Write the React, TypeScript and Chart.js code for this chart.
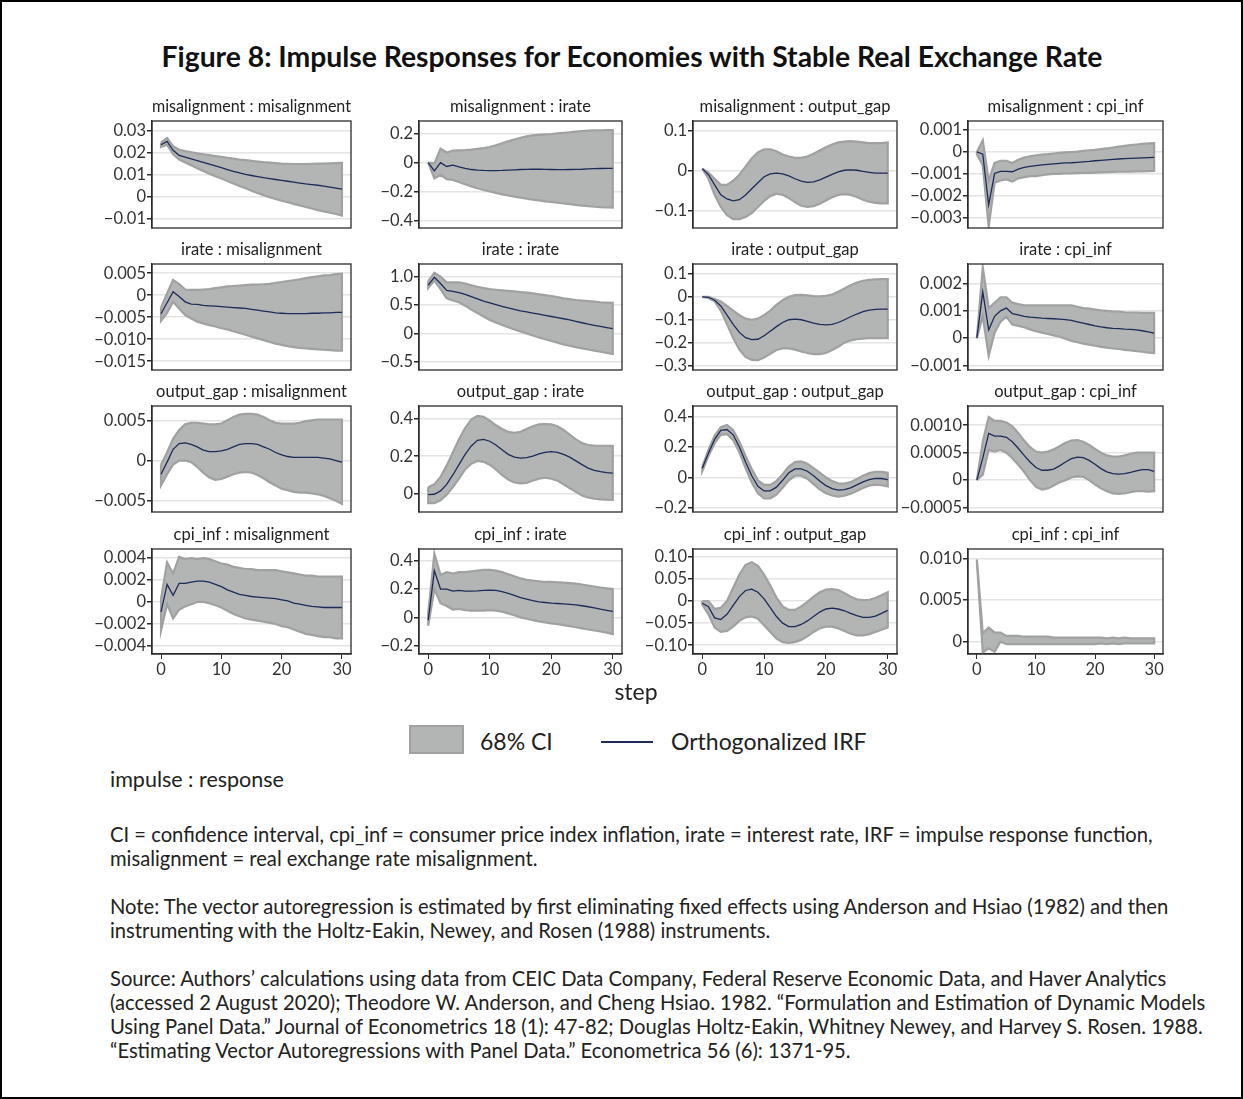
import React, { useEffect, useLayoutEffect, useRef } from 'react';
import { Chart, registerables } from 'chart.js';

Chart.register(...registerables);

// ---------------- DATA ----------------
const STEPS = [0, 1, 2, 3, 4, 5, 6, 7, 8, 9, 10, 11, 12, 13, 14, 15, 16, 17, 18, 19, 20, 21, 22, 23, 24, 25, 26, 27, 28, 29, 30];
const X_TICKS = [0, 10, 20, 30];

const PANEL_TITLES = [
  'misalignment : misalignment', 'misalignment : irate', 'misalignment : output_gap', 'misalignment : cpi_inf',
  'irate : misalignment', 'irate : irate', 'irate : output_gap', 'irate : cpi_inf',
  'output_gap : misalignment', 'output_gap : irate', 'output_gap : output_gap', 'output_gap : cpi_inf',
  'cpi_inf : misalignment', 'cpi_inf : irate', 'cpi_inf : output_gap', 'cpi_inf : cpi_inf',
];

// misalignment : misalignment
const misMisIrf = [0.0235, 0.0250, 0.0210, 0.0187, 0.0179, 0.0171, 0.0163, 0.0155, 0.0147, 0.0139, 0.0131, 0.0123, 0.0115, 0.0108, 0.0101, 0.0096, 0.0091, 0.0086, 0.0082, 0.0078, 0.0074, 0.0070, 0.0066, 0.0062, 0.0058, 0.0055, 0.0052, 0.0048, 0.0044, 0.0039, 0.0034];
const misMisHi = [0.0245, 0.0265, 0.0228, 0.0212, 0.0206, 0.0201, 0.0196, 0.0192, 0.0188, 0.0184, 0.0180, 0.0176, 0.0172, 0.0168, 0.0165, 0.0162, 0.0159, 0.0156, 0.0154, 0.0152, 0.0150, 0.0149, 0.0148, 0.0148, 0.0148, 0.0149, 0.0150, 0.0150, 0.0151, 0.0152, 0.0153];
const misMisLo = [0.0225, 0.0235, 0.0192, 0.0168, 0.0155, 0.0142, 0.0129, 0.0116, 0.0104, 0.0093, 0.0082, 0.0071, 0.0060, 0.0049, 0.0038, 0.0027, 0.0017, 0.0007, -0.0002, -0.0010, -0.0018, -0.0025, -0.0032, -0.0039, -0.0046, -0.0053, -0.0060, -0.0066, -0.0072, -0.0078, -0.0085];

// misalignment : irate
const misIrIrf = [0, -0.058, 0.0, -0.027, -0.018, -0.03, -0.04, -0.048, -0.052, -0.054, -0.055, -0.055, -0.054, -0.052, -0.05, -0.048, -0.047, -0.046, -0.046, -0.047, -0.048, -0.049, -0.049, -0.048, -0.047, -0.046, -0.044, -0.042, -0.041, -0.040, -0.040];
const misIrHi = [0, -0.005, 0.096, 0.07, 0.083, 0.085, 0.087, 0.09, 0.095, 0.1, 0.108, 0.12, 0.133, 0.147, 0.16, 0.172, 0.181, 0.188, 0.192, 0.195, 0.198, 0.202, 0.206, 0.21, 0.214, 0.218, 0.221, 0.223, 0.224, 0.225, 0.225];
const misIrLo = [0, -0.11, -0.085, -0.115, -0.12, -0.135, -0.15, -0.165, -0.178, -0.19, -0.2, -0.21, -0.22, -0.228, -0.236, -0.243, -0.25, -0.256, -0.262, -0.268, -0.273, -0.278, -0.283, -0.288, -0.293, -0.298, -0.302, -0.306, -0.309, -0.311, -0.312];

// misalignment : output_gap
const misOgIrf = [0.005, -0.01, -0.035, -0.06, -0.07, -0.075, -0.072, -0.06, -0.045, -0.03, -0.015, -0.008, -0.006, -0.008, -0.013, -0.02, -0.026, -0.029, -0.028, -0.023, -0.016, -0.009, -0.003, 0.001, 0.002, 0.001, -0.002, -0.004, -0.006, -0.006, -0.006];
const misOgHi = [0.005, -0.005, -0.02, -0.035, -0.035, -0.025, -0.01, 0.01, 0.03, 0.045, 0.053, 0.053, 0.048, 0.04, 0.035, 0.032, 0.032, 0.035, 0.042, 0.05, 0.058, 0.065, 0.07, 0.072, 0.073, 0.072, 0.07, 0.068, 0.068, 0.068, 0.07];
const misOgLo = [0.005, -0.02, -0.06, -0.09, -0.11, -0.12, -0.12, -0.115, -0.105, -0.09, -0.075, -0.063, -0.057, -0.06, -0.068, -0.078, -0.087, -0.09, -0.088, -0.082, -0.074, -0.066, -0.06, -0.058, -0.06, -0.065, -0.072, -0.077, -0.08, -0.081, -0.081];

// misalignment : cpi_inf
const misCpiIrf = [0, -0.0001, -0.0024, -0.00098, -0.00088, -0.00088, -0.0009, -0.00078, -0.0007, -0.00066, -0.00062, -0.00059, -0.00056, -0.00054, -0.00052, -0.0005, -0.00049, -0.00047, -0.00045, -0.00043, -0.0004, -0.00038, -0.00036, -0.00034, -0.00032, -0.0003, -0.00029, -0.00028, -0.00027, -0.00026, -0.00025];
const misCpiHi = [0, 0.00053, -0.0013, -0.0005, -0.0004, -0.0004, -0.0005, -0.00035, -0.00025, -0.0002, -0.00015, -0.00012, -0.0001, -0.00007, -0.00004, -0.00002, 0.0, 0.00002, 0.00005, 0.00008, 0.0001, 0.00013, 0.00016, 0.0002, 0.00024, 0.00028, 0.00031, 0.00034, 0.00037, 0.00039, 0.0004];
const misCpiLo = [-0.0001, -0.0006, -0.0034, -0.0014, -0.0013, -0.00125, -0.00135, -0.0012, -0.00115, -0.0011, -0.0011, -0.00105, -0.00102, -0.001, -0.001, -0.00098, -0.00097, -0.00096, -0.00095, -0.00095, -0.00094, -0.00093, -0.00092, -0.00091, -0.0009, -0.0009, -0.00089, -0.00088, -0.00088, -0.00087, -0.00086];

// irate : misalignment
const irMisIrf = [-0.0042, -0.0017, 0.0008, -0.0003, -0.0015, -0.002, -0.0021, -0.0023, -0.0024, -0.0025, -0.0026, -0.0027, -0.0028, -0.0029, -0.003, -0.0032, -0.0034, -0.0036, -0.0038, -0.004, -0.0041, -0.0042, -0.0042, -0.0042, -0.0042, -0.0041, -0.0041, -0.004, -0.004, -0.0039, -0.0039];
const irMisHi = [-0.0028, 0.0004, 0.0035, 0.0025, 0.0013, 0.0012, 0.0012, 0.0013, 0.0014, 0.0016, 0.0018, 0.002, 0.0021, 0.0022, 0.0023, 0.0024, 0.0024, 0.0025, 0.0026, 0.0028, 0.003, 0.0032, 0.0034, 0.0036, 0.0039, 0.0041, 0.0043, 0.0045, 0.0046, 0.0048, 0.0049];
const irMisLo = [-0.0058, -0.004, -0.0015, -0.003, -0.0045, -0.0053, -0.006, -0.0064, -0.0068, -0.0071, -0.0075, -0.0078, -0.0082, -0.0086, -0.009, -0.0094, -0.0098, -0.0102, -0.0106, -0.011, -0.0113, -0.0116, -0.0118, -0.012, -0.0121, -0.0122, -0.0123, -0.0124, -0.0125, -0.0126, -0.0126];

// irate : irate
const irIrIrf = [0.85, 0.99, 0.88, 0.76, 0.74, 0.72, 0.69, 0.65, 0.61, 0.57, 0.54, 0.51, 0.48, 0.45, 0.425, 0.40, 0.38, 0.36, 0.34, 0.32, 0.30, 0.28, 0.26, 0.24, 0.215, 0.19, 0.165, 0.145, 0.125, 0.105, 0.085];
const irIrHi = [0.92, 1.07, 1.0, 0.9, 0.9, 0.9, 0.88, 0.85, 0.82, 0.8, 0.78, 0.77, 0.76, 0.75, 0.74, 0.73, 0.72, 0.705, 0.69, 0.675, 0.66, 0.64, 0.62, 0.605, 0.59, 0.58, 0.57, 0.56, 0.55, 0.545, 0.54];
const irIrLo = [0.8, 0.93, 0.78, 0.62, 0.58, 0.55, 0.49, 0.42, 0.36, 0.3, 0.24, 0.195, 0.15, 0.11, 0.07, 0.035, 0.0, -0.035, -0.07, -0.1, -0.13, -0.16, -0.19, -0.215, -0.24, -0.26, -0.28, -0.3, -0.32, -0.34, -0.36];

// irate : output_gap
const irOgIrf = [0, -0.002, -0.015, -0.04, -0.08, -0.12, -0.155, -0.178, -0.187, -0.185, -0.17, -0.15, -0.13, -0.112, -0.1, -0.097, -0.1, -0.107, -0.115, -0.12, -0.122, -0.12, -0.112, -0.1, -0.087, -0.075, -0.065, -0.058, -0.055, -0.054, -0.054];
const irOgHi = [0, 0, -0.01, -0.02, -0.04, -0.06, -0.08, -0.095, -0.1, -0.095, -0.08, -0.06, -0.035, -0.015, 0, 0.007, 0.008, 0.006, 0.003, 0.002, 0.004, 0.01, 0.022, 0.036, 0.05, 0.062, 0.07, 0.074, 0.076, 0.077, 0.077];
const irOgLo = [0, -0.005, -0.02, -0.06, -0.12, -0.18, -0.23, -0.262, -0.275, -0.276, -0.265, -0.248, -0.232, -0.225, -0.225, -0.23, -0.238, -0.245, -0.25, -0.25, -0.245, -0.232, -0.218, -0.2, -0.19, -0.185, -0.182, -0.18, -0.18, -0.18, -0.18];

// irate : cpi_inf
const irCpiIrf = [0, 0.0017, 0.0003, 0.0008, 0.001, 0.0011, 0.0009, 0.00085, 0.0008, 0.00077, 0.00075, 0.00073, 0.00072, 0.00071, 0.0007, 0.00068, 0.00065, 0.0006, 0.00055, 0.0005, 0.00045, 0.00041, 0.00038, 0.00036, 0.00035, 0.00033, 0.00032, 0.0003, 0.00027, 0.00023, 0.00018];
const irCpiHi = [0, 0.0026, 0.0011, 0.0013, 0.0015, 0.0015, 0.0013, 0.00125, 0.0012, 0.0012, 0.0012, 0.0012, 0.0012, 0.0012, 0.0012, 0.0012, 0.0012, 0.00115, 0.0011, 0.00108, 0.00105, 0.00102, 0.001, 0.00098, 0.00097, 0.00095, 0.00094, 0.00094, 0.00093, 0.00093, 0.00093];
const irCpiLo = [0, 0.0008, -0.00065, 0.0002, 0.0006, 0.00078, 0.0005, 0.00045, 0.0004, 0.00032, 0.00025, 0.0002, 0.00015, 0.0001, 0.00005, -0.00002, -0.0001, -0.00015, -0.0002, -0.00024, -0.00028, -0.00032, -0.00035, -0.00038, -0.0004, -0.00043, -0.00045, -0.00048, -0.0005, -0.00053, -0.00055];

// output_gap : misalignment
const ogMisIrf = [-0.0017, -0.0002, 0.0014, 0.0021, 0.0022, 0.002, 0.0017, 0.0013, 0.0011, 0.0011, 0.0012, 0.0014, 0.0017, 0.002, 0.0021, 0.0021, 0.002, 0.0017, 0.0014, 0.001, 0.0007, 0.0005, 0.0004, 0.0004, 0.0004, 0.0004, 0.0004, 0.0003, 0.0002, 0.0, -0.0002];
const ogMisHi = [-0.0005, 0.001, 0.0027, 0.0038, 0.0045, 0.0047, 0.0047, 0.0046, 0.0045, 0.0045, 0.0046, 0.005, 0.0054, 0.0057, 0.0058, 0.0058, 0.0057, 0.0054, 0.005, 0.0047, 0.0046, 0.0046, 0.0046, 0.0047, 0.0049, 0.005, 0.0051, 0.0051, 0.0051, 0.0051, 0.0051];
const ogMisLo = [-0.0031, -0.0017, -0.0005, 0.0, 0.0, -0.0002, -0.0008, -0.0015, -0.0021, -0.0024, -0.0023, -0.002, -0.0017, -0.0015, -0.0014, -0.0015, -0.0018, -0.0022, -0.0027, -0.0031, -0.0035, -0.0037, -0.0039, -0.004, -0.004, -0.0041, -0.0042, -0.0044, -0.0047, -0.005, -0.0054];

// output_gap : irate
const ogIrIrf = [-0.005, -0.003, 0.015, 0.05, 0.1, 0.155, 0.21, 0.255, 0.285, 0.29, 0.28, 0.26, 0.235, 0.21, 0.195, 0.19, 0.192, 0.2, 0.212, 0.22, 0.224, 0.22, 0.21, 0.195, 0.175, 0.155, 0.137, 0.125, 0.118, 0.113, 0.11];
const ogIrHi = [0.035, 0.05, 0.09, 0.15, 0.22, 0.29, 0.35, 0.395, 0.415, 0.41, 0.39, 0.365, 0.345, 0.33, 0.325, 0.33, 0.345, 0.36, 0.37, 0.372, 0.37, 0.36, 0.34, 0.315, 0.29, 0.27, 0.26, 0.257, 0.256, 0.256, 0.256];
const ogIrLo = [-0.05, -0.05, -0.035, -0.005, 0.035, 0.08, 0.13, 0.16, 0.175, 0.17, 0.155, 0.13, 0.1, 0.075, 0.06, 0.055, 0.058, 0.07, 0.08, 0.085, 0.08, 0.07, 0.05, 0.03, 0.01, -0.01, -0.02, -0.027, -0.03, -0.032, -0.033];

// output_gap : output_gap
const ogOgIrf = [0.06, 0.16, 0.25, 0.31, 0.315, 0.28, 0.2, 0.1, 0.01, -0.06, -0.09, -0.09, -0.065, -0.02, 0.03, 0.055, 0.055, 0.04, 0.01, -0.025, -0.055, -0.075, -0.085, -0.082, -0.07, -0.05, -0.03, -0.015, -0.007, -0.008, -0.015];
const ogOgHi = [0.07, 0.18, 0.275, 0.33, 0.345, 0.31, 0.235, 0.14, 0.055, -0.02, -0.05, -0.05, -0.025, 0.02, 0.07, 0.1, 0.105, 0.09, 0.06, 0.03, 0.0, -0.025, -0.04, -0.042, -0.032, -0.012, 0.01, 0.027, 0.035, 0.035, 0.03];
const ogOgLo = [0.04, 0.14, 0.225, 0.28, 0.285, 0.245, 0.165, 0.06, -0.035, -0.105, -0.14, -0.14, -0.115, -0.07, -0.02, 0.01, 0.01, -0.01, -0.045, -0.08, -0.105, -0.12, -0.127, -0.122, -0.108, -0.09, -0.07, -0.055, -0.048, -0.052, -0.06];

// output_gap : cpi_inf
const ogCpiIrf = [0, 0.0004, 0.00085, 0.0008, 0.0008, 0.00078, 0.0007, 0.00058, 0.00045, 0.00033, 0.00023, 0.00018, 0.00018, 0.0002, 0.00026, 0.00033, 0.00039, 0.00042, 0.00041, 0.00036, 0.00029, 0.00021, 0.00015, 0.00012, 0.00011, 0.00012, 0.00014, 0.00017, 0.00019, 0.00019, 0.00016];
const ogCpiHi = [0, 0.0007, 0.00115, 0.00108, 0.00108, 0.00105, 0.00098, 0.00086, 0.00072, 0.0006, 0.00052, 0.0005, 0.00052, 0.00056, 0.00062, 0.00068, 0.00072, 0.00073, 0.0007, 0.00064, 0.00057, 0.0005, 0.00045, 0.00043, 0.00043, 0.00045, 0.00048, 0.0005, 0.0005, 0.0005, 0.0005];
const ogCpiLo = [0, 0.0001, 0.00055, 0.00052, 0.00055, 0.0005, 0.0004, 0.00028, 0.00015, 0.0, -0.00012, -0.00017, -0.00015, -0.0001, -0.00004, 0.0, 0.00005, 0.00007, 0.00006, 0.0, -0.00008, -0.00015, -0.0002, -0.00024, -0.00025, -0.00024, -0.00022, -0.0002, -0.0002, -0.00021, -0.0002];

// cpi_inf : misalignment
const cpiMisIrf = [-0.0009, 0.0016, 0.0006, 0.0017, 0.0017, 0.0018, 0.0019, 0.0019, 0.0018, 0.0016, 0.0014, 0.0011, 0.0009, 0.0007, 0.0006, 0.0005, 0.00045, 0.0004, 0.00035, 0.0003, 0.0002, 0.0001, -0.0001, -0.0002, -0.0003, -0.0004, -0.00045, -0.0005, -0.0005, -0.0005, -0.0005];
const cpiMisHi = [0.0003, 0.0036, 0.0026, 0.0041, 0.0039, 0.004, 0.0039, 0.004, 0.0039, 0.0037, 0.0035, 0.0034, 0.0032, 0.0031, 0.003, 0.003, 0.0029, 0.0029, 0.0029, 0.0029, 0.0028, 0.0027, 0.0026, 0.0025, 0.0024, 0.0024, 0.0023, 0.0023, 0.0023, 0.0023, 0.0023];
const cpiMisLo = [-0.0026, -0.0002, -0.0015, -0.0007, -0.0004, -0.0002, 0.0, 0.0, -0.0001, -0.0003, -0.0005, -0.0008, -0.0011, -0.0013, -0.0015, -0.0016, -0.0017, -0.0018, -0.0019, -0.002, -0.0022, -0.0023, -0.0025, -0.0027, -0.0029, -0.003, -0.0031, -0.0032, -0.0032, -0.0033, -0.0033];

// cpi_inf : irate
const cpiIrIrf = [-0.02, 0.33, 0.2, 0.2, 0.185, 0.19, 0.185, 0.185, 0.187, 0.19, 0.192, 0.19, 0.182, 0.17, 0.155, 0.14, 0.128, 0.118, 0.11, 0.105, 0.1, 0.098, 0.095, 0.092, 0.088, 0.082, 0.075, 0.067, 0.058, 0.05, 0.042];
const cpiIrHi = [0.03, 0.45, 0.3, 0.32, 0.31, 0.32, 0.32, 0.325, 0.33, 0.335, 0.335, 0.33, 0.32, 0.305, 0.29, 0.275, 0.265, 0.26, 0.255, 0.25, 0.25, 0.248, 0.245, 0.242, 0.238, 0.232, 0.225, 0.218, 0.21, 0.205, 0.2];
const cpiIrLo = [-0.06, 0.2, 0.1, 0.08, 0.055, 0.06, 0.05, 0.048, 0.048, 0.048, 0.05, 0.048, 0.04, 0.028, 0.015, 0.0, -0.01, -0.02, -0.028, -0.035, -0.042, -0.048, -0.055, -0.062, -0.07, -0.078, -0.085, -0.093, -0.1, -0.108, -0.118];

// cpi_inf : output_gap
const cpiOgIrf = [-0.005, -0.013, -0.038, -0.042, -0.03, -0.01, 0.01, 0.024, 0.027, 0.02, 0.005, -0.015, -0.035, -0.05, -0.058, -0.058, -0.053, -0.045, -0.035, -0.025, -0.018, -0.016, -0.018, -0.022, -0.028, -0.033, -0.037, -0.037, -0.034, -0.028, -0.021];
const cpiOgHi = [0.0, 0.0, -0.018, -0.015, 0.0, 0.03, 0.06, 0.082, 0.088, 0.08, 0.06, 0.035, 0.008, -0.012, -0.02, -0.02, -0.012, -0.002, 0.01, 0.02, 0.026, 0.027, 0.025, 0.018, 0.01, 0.004, 0.002, 0.003, 0.007, 0.013, 0.02];
const cpiOgLo = [-0.008, -0.03, -0.06, -0.07, -0.068, -0.058, -0.045, -0.037, -0.035, -0.04, -0.055, -0.07, -0.085, -0.093, -0.095, -0.093, -0.088, -0.08, -0.07, -0.062, -0.058, -0.058, -0.062, -0.068, -0.074, -0.078, -0.078, -0.075, -0.07, -0.065, -0.06];

// cpi_inf : cpi_inf
const cpiCpiIrf = [0.0098, -0.0002, 0.0005, 0.0, 0.0005, 0.0002, 0.0002, 0.0002, 0.0002, 0.0002, 0.00015, 0.00015, 0.00015, 0.00015, 0.00015, 0.0001, 0.0001, 0.0001, 0.0001, 0.0001, 0.0001, 0.0001, 0.0001, 0.0001, 0.0001, 0.0001, 0.0001, 0.0001, 0.0001, 0.0001, 0.0001];
const cpiCpiHi = [0.0099, 0.001, 0.0017, 0.0011, 0.0011, 0.0007, 0.0007, 0.0007, 0.0006, 0.0006, 0.0006, 0.0006, 0.0006, 0.0005, 0.0005, 0.0005, 0.0005, 0.0005, 0.0005, 0.0005, 0.0005, 0.0005, 0.0004, 0.0005, 0.0004, 0.0005, 0.0004, 0.0004, 0.0004, 0.0004, 0.0004];
const cpiCpiLo = [0.0097, -0.0013, -0.0008, -0.0012, 0.0, -0.0003, -0.0003, -0.0003, -0.0003, -0.0003, -0.0003, -0.0003, -0.0003, -0.0003, -0.0003, -0.0003, -0.0003, -0.0003, -0.0003, -0.0003, -0.0003, -0.0002, -0.0003, -0.0002, -0.0003, -0.0002, -0.0002, -0.0002, -0.0002, -0.0002, -0.0002];

const PANEL_IRF = [misMisIrf, misIrIrf, misOgIrf, misCpiIrf, irMisIrf, irIrIrf, irOgIrf, irCpiIrf, ogMisIrf, ogIrIrf, ogOgIrf, ogCpiIrf, cpiMisIrf, cpiIrIrf, cpiOgIrf, cpiCpiIrf];
const PANEL_HI = [misMisHi, misIrHi, misOgHi, misCpiHi, irMisHi, irIrHi, irOgHi, irCpiHi, ogMisHi, ogIrHi, ogOgHi, ogCpiHi, cpiMisHi, cpiIrHi, cpiOgHi, cpiCpiHi];
const PANEL_LO = [misMisLo, misIrLo, misOgLo, misCpiLo, irMisLo, irIrLo, irOgLo, irCpiLo, ogMisLo, ogIrLo, ogOgLo, ogCpiLo, cpiMisLo, cpiIrLo, cpiOgLo, cpiCpiLo];

// y-axis ranges and tick labels per panel
const Y_MIN = [-0.0141, -0.453, -0.142, -0.00346, -0.017, -0.641, -0.319, -0.00117, -0.0064, -0.0976, -0.229, -0.00058, -0.00473, -0.259, -0.12, -0.00148];
const Y_MAX = [0.0342, 0.288, 0.123, 0.00141, 0.0071, 1.223, 0.143, 0.00272, 0.00678, 0.468, 0.47, 0.00135, 0.00482, 0.483, 0.118, 0.01116];
const Y_TICKS = [
  [0.03, 0.02, 0.01, 0, -0.01], [0.2, 0, -0.2, -0.4], [0.1, 0, -0.1], [0.001, 0, -0.001, -0.002, -0.003],
  [0.005, 0, -0.005, -0.01, -0.015], [1.0, 0.5, 0, -0.5], [0.1, 0, -0.1, -0.2, -0.3], [0.002, 0.001, 0, -0.001],
  [0.005, 0, -0.005], [0.4, 0.2, 0], [0.4, 0.2, 0, -0.2], [0.001, 0.0005, 0, -0.0005],
  [0.004, 0.002, 0, -0.002, -0.004], [0.4, 0.2, 0, -0.2], [0.1, 0.05, 0, -0.05, -0.1], [0.01, 0.005, 0],
];
const Y_TICK_LABELS = [
  ['0.03', '0.02', '0.01', '0', '\u22120.01'], ['0.2', '0', '\u22120.2', '\u22120.4'], ['0.1', '0', '\u22120.1'], ['0.001', '0', '\u22120.001', '\u22120.002', '\u22120.003'],
  ['0.005', '0', '\u22120.005', '\u22120.010', '\u22120.015'], ['1.0', '0.5', '0', '\u22120.5'], ['0.1', '0', '\u22120.1', '\u22120.2', '\u22120.3'], ['0.002', '0.001', '0', '\u22120.001'],
  ['0.005', '0', '\u22120.005'], ['0.4', '0.2', '0'], ['0.4', '0.2', '0', '\u22120.2'], ['0.0010', '0.0005', '0', '\u22120.0005'],
  ['0.004', '0.002', '0', '\u22120.002', '\u22120.004'], ['0.4', '0.2', '0', '\u22120.2'], ['0.10', '0.05', '0', '\u22120.05', '\u22120.10'], ['0.010', '0.005', '0'],
];

const LEGEND_LABELS = ['68% CI', 'Orthogonalized IRF'];

// ---------------- LAYOUT / STYLE ----------------
const COL_BOX = [[150, 349], [417, 620], [691, 895], [966, 1161]];
const ROW_BOX = [[119, 226], [262, 368], [404, 510], [547, 652]];
const AXW = 72;
const PAD_R = 16;
const TITLE_H = 23;
const XAXIS_H = 30;
const PAD_B = 2;
const FONT = "Lato, 'Open Sans', sans-serif";
const BAND_FILL = '#b3b4b4';
const BAND_EDGE = '#a0a1a1';
const IRF_COLOR = '#1d2b58';
const FRAME = '#2b2b2b';
const TICK_SIZE = 16.5;

const framePlugin = {
  id: 'frame',
  afterDatasetsDraw(chart: any) {
    const { ctx, chartArea } = chart;
    ctx.save();
    ctx.strokeStyle = FRAME;
    ctx.lineWidth = 1.3;
    ctx.strokeRect(chartArea.left, chartArea.top, chartArea.right - chartArea.left, chartArea.bottom - chartArea.top);
    ctx.restore();
  },
};

function Panel({ idx }: { idx: number }) {
  const ref = useRef<HTMLCanvasElement>(null);
  const r = Math.floor(idx / 4);
  const c = idx % 4;
  const [bl, br] = COL_BOX[c];
  const [bt, bb] = ROW_BOX[r];
  const isBottom = r === 3;
  const xh = isBottom ? XAXIS_H : 0;
  const width = AXW + (br - bl) + PAD_R;
  const height = TITLE_H + (bb - bt) + xh + PAD_B;

  useEffect(() => {
    const hi = PANEL_HI[idx];
    const lo = PANEL_LO[idx];
    const irf = PANEL_IRF[idx];
    const band = [
      ...STEPS.map((s, i) => ({ x: s, y: hi[i] })),
      ...STEPS.map((s, i) => ({ x: s, y: lo[i] })).reverse(),
      { x: STEPS[0], y: hi[0] },
    ];
    const line = STEPS.map((s, i) => ({ x: s, y: irf[i] }));
    const lastPanel = idx === 15;
    const chart = new Chart(ref.current as HTMLCanvasElement, {
      type: 'line',
      data: {
        datasets: [
          {
            label: LEGEND_LABELS[0],
            data: band,
            fill: 'shape',
            backgroundColor: BAND_FILL,
            borderColor: BAND_EDGE,
            borderWidth: 2.2,
            pointRadius: 0,
            tension: 0,
            order: lastPanel ? 1 : 2,
          } as any,
          {
            label: LEGEND_LABELS[1],
            data: line,
            fill: false,
            borderColor: IRF_COLOR,
            borderWidth: 1.3,
            pointRadius: 0,
            tension: 0,
            order: lastPanel ? 2 : 1,
          } as any,
        ],
      },
      options: {
        animation: false,
        responsive: false,
        devicePixelRatio: 1,
        events: [],
        layout: { padding: { left: 0, right: PAD_R, top: 0, bottom: PAD_B } },
        plugins: {
          legend: { display: false },
          tooltip: { enabled: false },
        },
        scales: {
          x: {
            type: 'linear',
            min: -1.5,
            max: 31.5,
            display: isBottom,
            afterBuildTicks: (s: any) => { s.ticks = X_TICKS.map((v) => ({ value: v })); },
            afterFit: (s: any) => { s.height = xh; s.paddingLeft = 0; s.paddingRight = 0; },
            grid: { drawOnChartArea: false, drawTicks: true, tickLength: 5, tickColor: FRAME, color: FRAME },
            border: { display: true, color: FRAME, width: 1.3 },
            ticks: { color: '#333', font: { family: FONT, size: TICK_SIZE }, padding: 1, maxRotation: 0, autoSkip: false, callback: (v: any) => String(v) },
          },
          panelTitle: {
            type: 'linear',
            position: 'top',
            display: true,
            grid: { display: false, drawTicks: false },
            border: { display: false },
            ticks: { display: false },
            afterFit: (s: any) => { s.height = TITLE_H; s.paddingLeft = 0; s.paddingRight = 0; },
            title: {
              display: true,
              text: PANEL_TITLES[idx],
              color: '#222',
              font: { family: FONT, size: 16.5, weight: 'normal', lineHeight: '18px' },
              padding: { top: 0, bottom: 5 },
            },
          },
          y: {
            type: 'linear',
            min: Y_MIN[idx],
            max: Y_MAX[idx],
            afterBuildTicks: (s: any) => { s.ticks = Y_TICKS[idx].map((v) => ({ value: v })); },
            afterFit: (s: any) => { s.width = AXW; s.paddingTop = 0; s.paddingBottom = 0; },
            grid: { color: '#e4e4e4', lineWidth: 1.5, drawTicks: true, tickLength: 5, tickColor: FRAME },
            border: { display: true, color: FRAME, width: 1.3 },
            ticks: {
              color: '#333',
              font: { family: FONT, size: TICK_SIZE },
              padding: 1,
              autoSkip: false,
              callback: (_v: any, i: number) => Y_TICK_LABELS[idx][i],
            },
          },
        },
      },
      plugins: [framePlugin],
    } as any);
    return () => chart.destroy();
  }, [idx]);

  return (
    <canvas
      ref={ref}
      width={width}
      height={height}
      style={{ position: 'absolute', left: bl - AXW, top: bt - TITLE_H, width, height }}
    />
  );
}

const NOTE_LINES_1 = [
  'CI = confidence interval, cpi_inf = consumer price index inflation, irate = interest rate, IRF = impulse response function,',
  'misalignment = real exchange rate misalignment.',
];
const NOTE_LINES_2 = [
  'Note: The vector autoregression is estimated by first eliminating fixed effects using Anderson and Hsiao (1982) and then',
  'instrumenting with the Holtz-Eakin, Newey, and Rosen (1988) instruments.',
];
const NOTE_LINES_3 = [
  'Source: Authors\u2019 calculations using data from CEIC Data Company, Federal Reserve Economic Data, and Haver Analytics',
  '(accessed 2 August 2020); Theodore W. Anderson, and Cheng Hsiao. 1982. \u201cFormulation and Estimation of Dynamic Models',
  'Using Panel Data.\u201d Journal of Econometrics 18 (1): 47-82; Douglas Holtz-Eakin, Whitney Newey, and Harvey S. Rosen. 1988.',
  '\u201cEstimating Vector Autoregressions with Panel Data.\u201d Econometrica 56 (6): 1371-95.',
];

function TextLine({ text, top, left = 108, size = 20.2 }: { text: string; top: number; left?: number; size?: number }) {
  return (
    <div style={{ position: 'absolute', left, top: top - 13, height: 24, lineHeight: '24px', fontSize: size, whiteSpace: 'nowrap', color: '#222' }}>
      {text}
    </div>
  );
}

const TITLE_W = 941;

export default function App() {
  const titleRef = useRef<HTMLDivElement>(null);
  useLayoutEffect(() => {
    const el = titleRef.current;
    if (el) {
      el.style.transform = 'none';
      const w = el.offsetWidth;
      const k = w > 0 ? TITLE_W / w : 1;
      el.style.transform = `translateX(${-TITLE_W / 2}px) scaleX(${k})`;
    }
  }, []);

  const panels = [];
  for (let i = 0; i < 16; i++) panels.push(<Panel key={i} idx={i} />);

  return (
    <div
      style={{
        position: 'absolute', left: 0, top: 0, width: 1243, height: 1099, boxSizing: 'border-box',
        border: '2px solid #000', background: '#fff', fontFamily: FONT, color: '#222', overflow: 'hidden',
      }}
    >
      <div
        ref={titleRef}
        style={{
          position: 'absolute', left: 630, top: 36, fontSize: 29, fontWeight: 700, whiteSpace: 'nowrap',
          lineHeight: '36px', transformOrigin: '0 50%', color: '#111',
        }}
      >
        Figure 8: Impulse Responses for Economies with Stable Real Exchange Rate
      </div>
      {panels}
      <div style={{ position: 'absolute', left: 634, top: 676, transform: 'translateX(-50%)', fontSize: 23, lineHeight: '26px', color: '#222' }}>step</div>

      <div style={{ position: 'absolute', left: 407, top: 723, width: 55, height: 29, boxSizing: 'border-box', background: BAND_FILL, border: `2px solid ${BAND_EDGE}` }} />
      <div style={{ position: 'absolute', left: 478, top: 724, fontSize: 23, lineHeight: '30px', color: '#222' }}>{LEGEND_LABELS[0]}</div>
      <div style={{ position: 'absolute', left: 599, top: 739, width: 52, height: 2, background: IRF_COLOR }} />
      <div style={{ position: 'absolute', left: 669, top: 724, fontSize: 23, lineHeight: '30px', color: '#222' }}>{LEGEND_LABELS[1]}</div>

      <TextLine text="impulse : response" top={778} size={21.5} />
      {NOTE_LINES_1.map((t, i) => <TextLine key={'a' + i} text={t} top={833 + i * 24} />)}
      {NOTE_LINES_2.map((t, i) => <TextLine key={'b' + i} text={t} top={905 + i * 24} />)}
      {NOTE_LINES_3.map((t, i) => <TextLine key={'c' + i} text={t} top={977 + i * 24} />)}
    </div>
  );
}
